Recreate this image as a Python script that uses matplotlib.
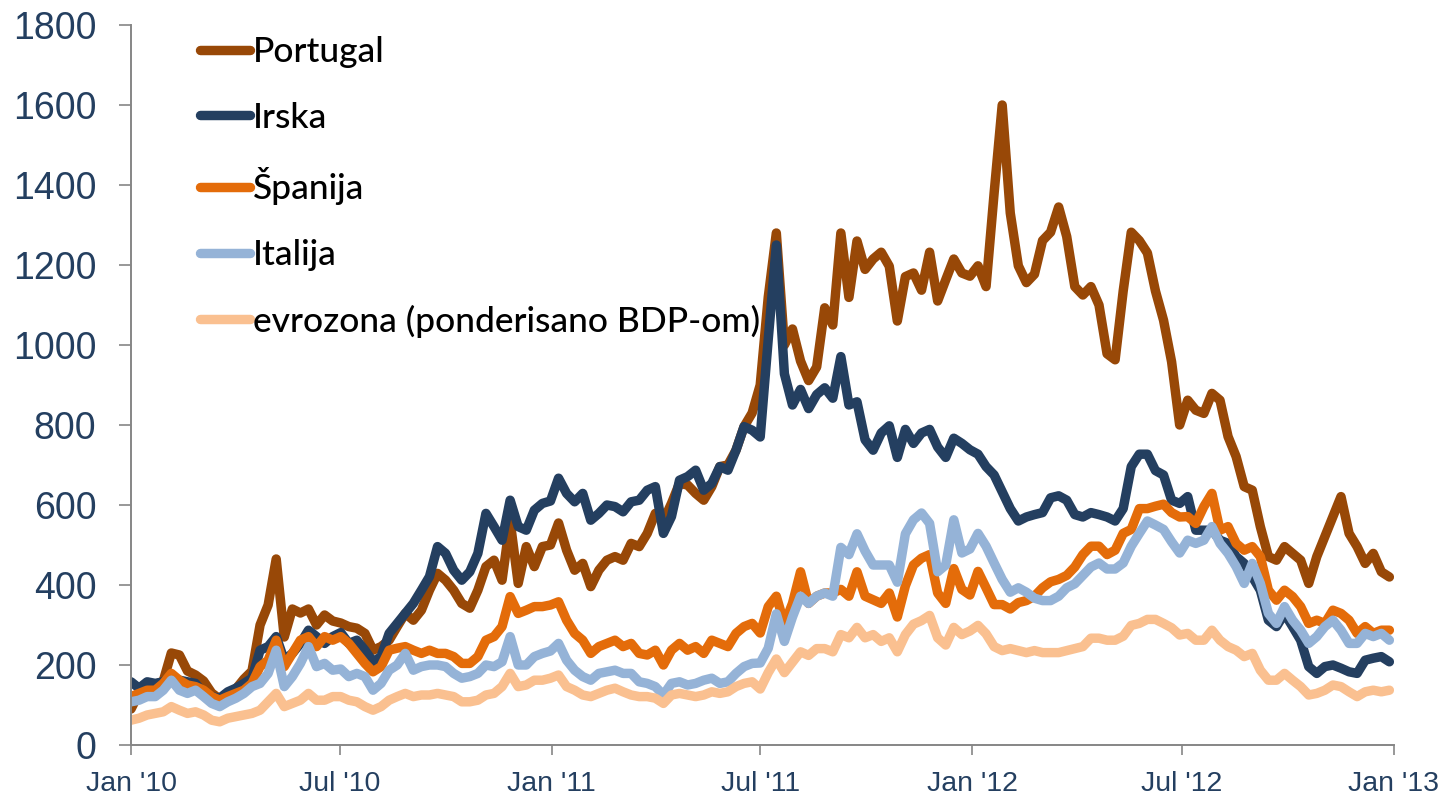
import matplotlib
matplotlib.use("Agg")
import matplotlib.pyplot as plt
import pandas as pd

# weekly observations, Jan 2010 - Dec 2012 (basis points)
dates = pd.date_range("2010-01-01", periods=157, freq="7D")

portugal = [90, 130, 145, 150, 160, 230, 225, 185, 175, 160, 130, 115, 125, 140, 165, 185, 300, 350, 465, 270,
            340, 330, 340, 300, 325, 310, 305,
            296, 292, 279, 237, 246, 262, 296, 329, 312, 337, 387, 429, 412, 387, 354, 342, 387, 446, 462, 412,
            560, 404, 496, 446, 496, 500,
            555, 487, 437, 454, 396, 437, 462, 471, 462, 504, 496, 529, 579, 560, 604, 654, 650, 629, 612, 646,
            696, 700, 737, 796, 830, 900,
            1120, 1280, 1000, 1040, 960, 911, 945, 1093, 1050, 1280, 1119, 1260, 1189, 1215, 1232, 1197, 1060,
            1171, 1180, 1137, 1232, 1110, 1163, 1215, 1180, 1172,
            1198, 1146, 1380, 1600, 1330, 1198, 1156, 1177, 1261, 1282, 1345, 1271, 1146, 1125, 1146, 1100, 978,
            963, 1135, 1282, 1261, 1230, 1135, 1062, 958, 800,
            862, 837, 829, 879, 862, 771, 721, 646, 637, 546, 471, 462, 496, 479, 462, 404, 471, 521, 571, 621,
            529, 496, 454, 479, 433, 420]

irska = [158, 142, 158, 154, 158, 171, 162, 158, 154, 129, 121, 117, 133, 142, 154, 167, 237, 246, 271, 212,
         229, 254, 287, 271, 254, 271, 281,
         254, 262, 237, 208, 221, 279, 304, 329, 354, 387, 421, 496, 479, 437, 412, 433, 479, 579, 546, 512,
         612, 546, 537, 587, 604, 610,
         667, 629, 608, 629, 562, 579, 600, 596, 583, 608, 612, 637, 646, 529, 571, 662, 671, 687, 637, 654,
         696, 687, 737, 796, 787, 770,
         1015, 1250, 928, 850, 889, 841, 876, 893, 867, 971, 850, 858, 763, 737, 780, 798, 719, 789, 754, 780,
         789, 745, 719, 767, 754, 738,
         727, 696, 675, 633, 591, 560, 570, 576, 581, 618, 623, 612, 576, 570, 581, 576, 570, 560, 591, 696,
         727, 727, 686, 675, 612, 604,
         621, 537, 537, 537, 512, 504, 471, 454, 421, 387, 312, 296, 329, 296, 262, 196, 179, 196, 200, 192,
         183, 179, 212, 217, 221, 208]

spanija = [121, 129, 137, 137, 154, 179, 162, 150, 146, 137, 121, 112, 121, 129, 137, 154, 196, 212, 262, 196,
           229, 262, 271, 246, 271, 262, 271,
           254, 229, 204, 183, 196, 237, 242, 246, 237, 229, 237, 229, 229, 221, 204, 204, 221, 262, 271, 296,
           371, 329, 337, 346, 346, 350,
           358, 312, 279, 262, 229, 246, 254, 262, 246, 254, 229, 225, 237, 200, 237, 254, 237, 246, 229, 262,
           254, 246, 279, 296, 304, 280,
           346, 372, 302, 354, 433, 354, 372, 380, 380, 389, 372, 433, 372, 363, 354, 380, 320, 398, 450, 467,
           476, 380, 354, 441, 389, 375,
           434, 393, 351, 351, 340, 356, 361, 372, 393, 408, 414, 424, 445, 476, 497, 497, 476, 487, 529, 539,
           591, 591, 597, 602, 581, 570,
           571, 554, 596, 629, 537, 546, 504, 487, 496, 471, 387, 362, 387, 371, 346, 304, 312, 304, 337, 329,
           312, 279, 296, 279, 287, 287]

italija = [108, 112, 121, 121, 137, 162, 137, 129, 137, 121, 104, 96, 108, 117, 129, 146, 154, 179, 237, 146,
           171, 204, 246, 196, 204, 187, 190,
           171, 179, 171, 137, 154, 187, 200, 229, 187, 196, 200, 200, 196, 179, 167, 171, 179, 200, 196, 208,
           271, 200, 200, 221, 229, 235,
           254, 212, 187, 171, 162, 179, 183, 187, 179, 179, 158, 154, 146, 125, 154, 158, 150, 154, 162, 167,
           154, 158, 179, 196, 204, 205,
           242, 328, 259, 320, 372, 354, 372, 380, 372, 494, 476, 528, 485, 450, 450, 450, 407, 528, 563, 580,
           554, 433, 450, 563, 480, 490,
           529, 497, 455, 414, 382, 393, 382, 367, 361, 361, 372, 393, 403, 424, 445, 455, 440, 440, 455, 497,
           529, 560, 550, 539, 508, 480,
           512, 504, 512, 546, 504, 479, 446, 404, 454, 404, 329, 304, 346, 312, 287, 254, 271, 296, 312, 287,
           254, 254, 279, 271, 279, 262]

evrozona = [62, 67, 75, 79, 83, 96, 87, 79, 83, 75, 62, 58, 67, 71, 75, 79, 87, 108, 129, 96,
            104, 112, 129, 112, 112, 121, 121,
            112, 108, 96, 87, 96, 112, 121, 129, 121, 125, 125, 129, 125, 121, 108, 108, 112, 125, 129, 146,
            179, 146, 150, 162, 162, 167,
            175, 146, 137, 125, 121, 129, 137, 142, 133, 125, 121, 121, 117, 104, 125, 129, 125, 121, 125, 133,
            129, 133, 146, 154, 158, 140,
            181, 215, 181, 207, 233, 224, 241, 241, 233, 276, 268, 294, 268, 276, 259, 268, 233, 276, 302, 311,
            324, 268, 250, 294, 276, 285,
            299, 278, 246, 236, 241, 236, 231, 236, 231, 231, 231, 236, 241, 246, 267, 267, 262, 262, 272, 299,
            304, 314, 314, 304, 293, 275,
            279, 262, 262, 287, 262, 246, 237, 221, 229, 187, 162, 162, 179, 162, 146, 125, 129, 137, 150, 146,
            133, 121, 133, 137, 133, 137]

labels = ["Portugal", "Irska", "Španija", "Italija", "evrozona (ponderisano BDP-om)"]
colors = ["#984807", "#243F60", "#E46C0A", "#95B3D7", "#FAC090"]
series = [portugal, irska, spanija, italija, evrozona]

tick_dates = pd.to_datetime(["2010-01-01", "2010-07-01", "2011-01-01", "2011-07-01",
                             "2012-01-01", "2012-07-01", "2013-01-01"])
tick_labels = ["Jan '10", "Jul '10", "Jan '11", "Jul '11", "Jan '12", "Jul '12", "Jan '13"]

fig = plt.figure(figsize=(14.46, 7.95), dpi=100)
ax = fig.add_axes([131 / 1446, 50 / 795, (1394 - 131) / 1446, 720 / 795])

for vals, lab, col in zip(series, labels, colors):
    ax.plot(dates, vals, color=col, lw=6.8, label=lab,
            solid_capstyle="round", solid_joinstyle="round")

ax.set_xlim(pd.Timestamp("2010-01-01"), pd.Timestamp("2013-01-01"))
ax.set_ylim(0, 1800)
ax.set_yticks(range(0, 1801, 200))
ax.set_xticks(tick_dates)
ax.set_xticklabels(tick_labels)

txt_col = "#243F60"
ax.tick_params(axis="y", labelsize=27, colors="#868686", labelcolor=txt_col,
               length=9, width=1.2, pad=16)
ax.tick_params(axis="x", labelsize=20.5, colors="#868686", labelcolor=txt_col,
               length=7, width=1.2, pad=12)
for lbl in ax.get_xticklabels() + ax.get_yticklabels():
    lbl.set_family(["Liberation Sans", "DejaVu Sans"])

for s in ["top", "right"]:
    ax.spines[s].set_visible(False)
for s in ["left", "bottom"]:
    ax.spines[s].set_color("#868686")
    ax.spines[s].set_linewidth(1.4)

leg = ax.legend(loc="upper left", bbox_to_anchor=(200 / 1446, 1 - 36 / 795),
                bbox_transform=fig.transFigure, frameon=False,
                prop={"family": ["Lato", "DejaVu Sans"], "size": 25.5, "weight": "medium"},
                handlelength=1.4, handletextpad=0.1, labelspacing=0.95,
                borderpad=0, borderaxespad=0)
for h in leg.get_lines():
    h.set_linewidth(6.8)
    h.set_solid_capstyle("round")

fig.savefig("out.png", dpi=100)
